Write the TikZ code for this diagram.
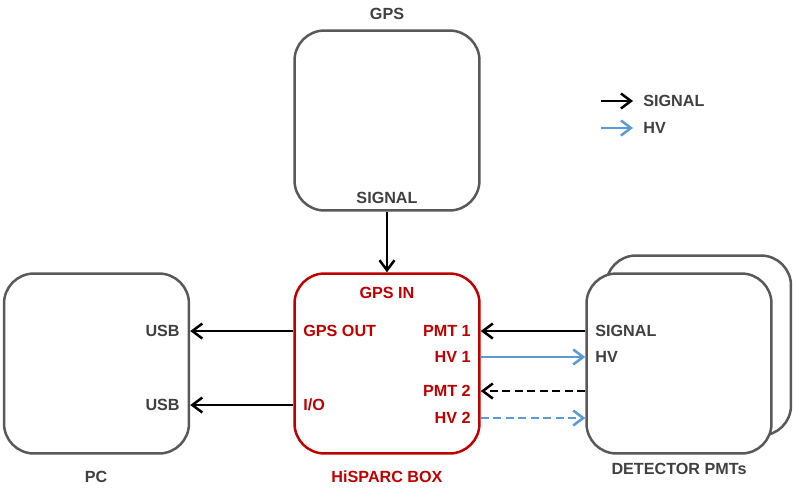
\documentclass[tikz,border=0pt]{standalone}
\usepackage{fontspec}
\setmainfont{Liberation Sans}
\usetikzlibrary{arrows.meta}
\definecolor{boxgray}{RGB}{89,89,89}
\definecolor{txtgray}{RGB}{64,64,64}
\definecolor{boxred}{RGB}{192,0,0}
\definecolor{hvblue}{RGB}{91,155,213}
\begin{document}
\begin{tikzpicture}[x=0.02cm,y=-0.02cm,
  font=\fontsize{9.2}{11}\selectfont\bfseries,
  unit/.style={draw=boxgray,line width=0.05cm,rounded corners=0.6cm,fill=white,
    minimum width=3.7cm,minimum height=3.6cm,inner sep=0},
  txt/.style={text=txtgray,inner sep=0},
  rtxt/.style={text=boxred,inner sep=0},
  tip/.style={-{Straight Barb[length=0.2cm,width=0.3cm,line width=0.05cm]}},
  sig/.style={tip,line width=0.055cm,black},
  hv/.style={tip,line width=0.055cm,hvblue},
  dashy/.style={dash pattern=on 0.16cm off 0.09cm}]
\useasboundingbox (0,0) rectangle (793,491);
% boxes
\path (387,120.5) node[unit] (gps) {};
\path (387,363.5) node[unit,draw=boxred] (hisparc) {};
\path (96.5,363.5) node[unit] (pc) {};
\path (698.5,345.5) node[unit] (pmtback) {};
\path (679,363.5) node[unit] (pmt) {};
% titles
\path (387,14) node[txt] (gpstitle) {GPS};
\path (387,477) node[rtxt] (boxtitle) {HiSPARC BOX};
\path (96,477) node[txt] (pctitle) {PC};
\path (679,469) node[txt] (pmttitle) {DETECTOR PMTs};
% ports
\path (387,198) node[txt] (gpssig) {SIGNAL};
\path (387,293) node[rtxt] (gpsin) {GPS IN};
\path (303,331) node[rtxt,anchor=west] (gpsout) {GPS OUT};
\path (303,405) node[rtxt,anchor=west] (io) {I/O};
\path (471,331) node[rtxt,anchor=east] (pmtone) {PMT 1};
\path (471,357) node[rtxt,anchor=east] (hvone) {HV 1};
\path (471,391) node[rtxt,anchor=east] (pmttwo) {PMT 2};
\path (471,418) node[rtxt,anchor=east] (hvtwo) {HV 2};
\path (180,331) node[txt,anchor=east] (usbone) {USB};
\path (180,405) node[txt,anchor=east] (usbtwo) {USB};
\path (595,331) node[txt,anchor=west] (pmtsig) {SIGNAL};
\path (595,357) node[txt,anchor=west] (pmthv) {HV};
% connections
\draw [sig] (gps.south) -- (hisparc.north);
\draw [sig] (hisparc.west |- gpsout) -- (pc.east |- gpsout);
\draw [sig] (hisparc.west |- io) -- (pc.east |- io);
\draw [sig] (pmt.west |- pmtone) -- (hisparc.east |- pmtone);
\draw [hv] (hisparc.east |- hvone) -- (pmt.west |- hvone);
\draw [sig,dashy] (pmt.west |- pmttwo) -- (hisparc.east |- pmttwo);
\draw [hv,dashy] (hisparc.east |- hvtwo) -- (pmt.west |- hvtwo);
% legend
\path (643,101) node[txt,anchor=west] (keysig) {SIGNAL};
\path (643,128) node[txt,anchor=west] (keyhv) {HV};
\coordinate (keysigtail) at (601,101);
\coordinate (keyhvtail) at (601,128);
\draw [sig] (keysigtail) -- ([xshift=-0.2cm]keysig.west);
\draw [hv] (keyhvtail) -- ([xshift=-0.2cm]keyhv.west);
\end{tikzpicture}
\end{document}
